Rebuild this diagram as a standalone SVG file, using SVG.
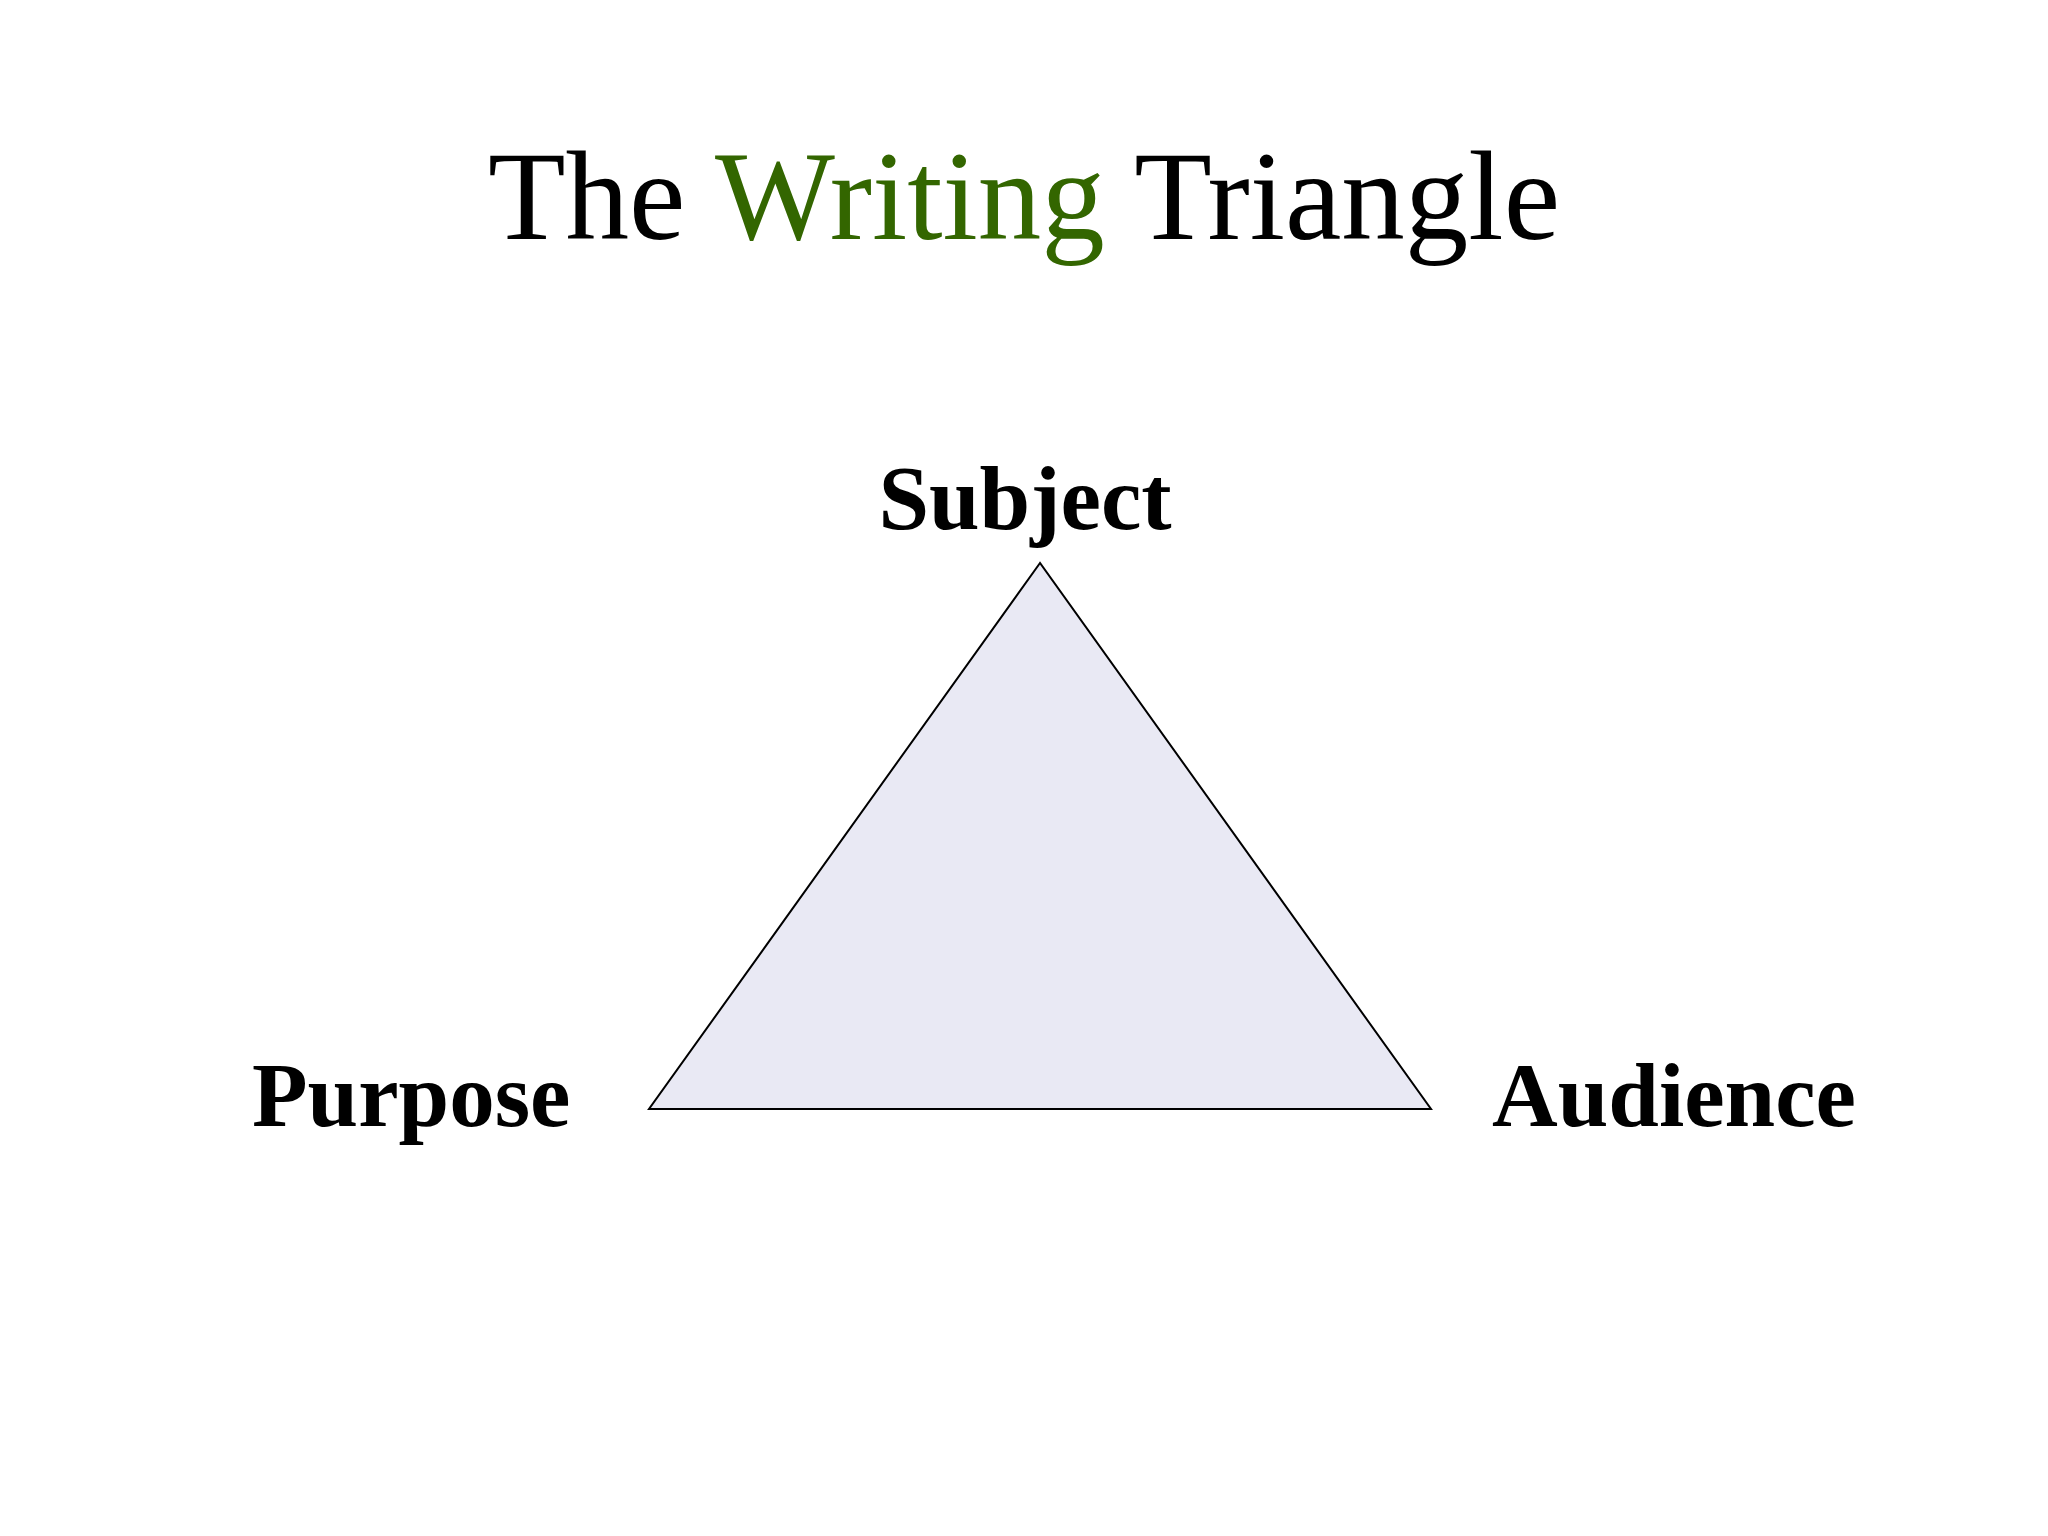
<svg xmlns="http://www.w3.org/2000/svg" width="2048" height="1536" viewBox="0 0 2048 1536">
<style>
.title{font-family:"Liberation Serif","Times New Roman",serif;font-size:127px;fill:#000}
.lbl{font-family:"Liberation Serif","Times New Roman",serif;font-size:91px;font-weight:bold;fill:#000}
</style>
<rect width="2048" height="1536" fill="#ffffff"/>
<g id="title"><text class="title" x="1024" y="239" text-anchor="middle">The <tspan fill="#336600">Writing</tspan> Triangle</text></g>
<g id="triangle"><polygon points="1040,563 649,1109 1431,1109" fill="#e9e9f4" stroke="#000" stroke-width="2"/></g>
<g id="subject"><text class="lbl" x="1025" y="529" text-anchor="middle">Subject</text></g>
<g id="purpose"><text class="lbl" x="252" y="1126">Purpose</text></g>
<g id="audience"><text class="lbl" x="1492" y="1126">Audience</text></g>
<g id="connectors"></g>
</svg>
